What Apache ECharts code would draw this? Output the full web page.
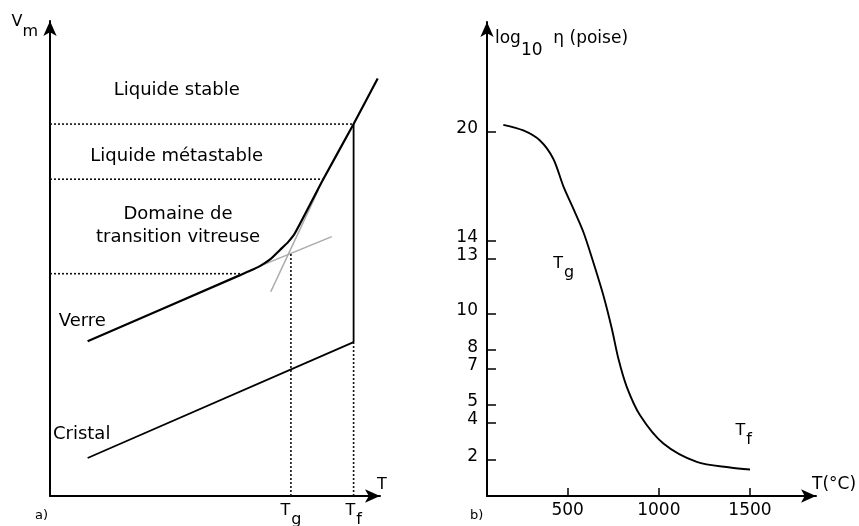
<!DOCTYPE html>
<html><head><meta charset="utf-8">
<script src="https://cdn.jsdelivr.net/npm/echarts@6/dist/echarts.min.js"></script>
<style>html,body{margin:0;padding:0;background:#fff}#c{width:859px;height:526px}</style>
</head><body><div id="c"></div>
<script>
// ---------- Panel a) : schematic V_m(T), arbitrary units ----------
const Tg = 73;
const Tf = 92;
const glassLiquidX = [11.4, 57.6, 60.6, 63.6, 66.7, 69.7, 72.2, 74.2, 82.8, 92, 99.3];
const glassLiquidY = [32.6, 46.5, 47.4, 48.4, 49.8, 51.8, 53.5, 55.3, 66.7, 78.3, 87.9];
const crystalX = [11.4, 92];
const crystalY = [8.0, 32.4];
const glassExtX = [63.6, 85.4];
const glassExtY = [48.4, 54.6];
const liquidExtX = [66.9, 81.3];
const liquidExtY = [43.0, 64.4];
const levelY = [78.3, 66.7, 46.8];      // stable / metastable / transition limits
const levelEndX = [92, 82.8, 58.2];
const TgTopY = 51.2;
const textA = ['Liquide stable', 'Liquide métastable', 'Domaine de\ntransition vitreuse', 'Verre', 'Cristal'];
const textAX = [38.4, 38.4, 38.8, 9.8, 9.6];
const textAY = [85.5, 71.6, 56.8, 36.8, 13.0];

// ---------- Panel b) : log10 viscosity vs temperature ----------
const tempC = [147, 257, 348, 421, 476, 531, 586, 635, 696, 742, 778, 824, 897, 1025, 1208, 1391, 1500];
const logEta = [20.36, 20.05, 19.5, 18.5, 17.0, 15.76, 14.48, 13.0, 11.0, 9.19, 7.54, 5.99, 4.43, 2.88, 1.87, 1.56, 1.45];
const etaTicks = [2, 4, 5, 7, 8, 10, 13, 14, 20];
const tempTicks = [500, 1000, 1500];
const textB = ['Tg', 'Tf'];
const textBX = [478, 1465];
const textBY = [12.7, 3.5];

const FONT = 'DejaVu Sans';
const ink = '#000';
const zip = (a, b) => a.map((v, i) => [v, b[i]]);

const subRich = {
  t: {fontFamily: FONT, fontSize: 16, color: ink, lineHeight: 18, verticalAlign: 'top'},
  s: {fontFamily: FONT, fontSize: 16, color: ink, lineHeight: 18, verticalAlign: 'top', padding: [9, 0, 0, 1]}
};
const subFmt = s => '{t|' + s[0] + '}{s|' + s.slice(1) + '}';

const axisLineStyle = {color: '#000', width: 2};
const arrowSize = [10, 15];
const dot = {color: '#111', width: 1.6, type: [2, 2]};

const lineSeries = (data, style, xi, smooth) => ({
  type: 'line', xAxisIndex: xi, yAxisIndex: xi, data: data, symbol: 'none', smooth: smooth || false,
  lineStyle: style, silent: true, clip: false, animation: false
});

const seriesA = [
  lineSeries(zip(glassExtX, glassExtY), {color: '#aaa', width: 1.5}, 0),
  lineSeries(zip(liquidExtX, liquidExtY), {color: '#aaa', width: 1.5}, 0),
  lineSeries(zip(glassLiquidX, glassLiquidY), {color: '#000', width: 2.2}, 0, 0.2),
  lineSeries(zip(crystalX, crystalY), {color: '#000', width: 1.8}, 0),
  lineSeries([[Tf, crystalY[1]], [Tf, levelY[0]]], {color: '#000', width: 1.8}, 0),
  lineSeries([[Tg, 0], [Tg, TgTopY]], dot, 0),
  lineSeries([[Tf, 0], [Tf, crystalY[1]]], dot, 0)
];
levelY.forEach((y, i) => seriesA.push(lineSeries([[0, y], [levelEndX[i], y]], dot, 0)));
seriesA.push({
  type: 'scatter', xAxisIndex: 0, yAxisIndex: 0, symbolSize: 0, silent: true, animation: false,
  itemStyle: {color: 'transparent', opacity: 1},
  data: textA.map((t, i) => ({value: [textAX[i], textAY[i]], name: t})),
  label: {show: true, position: 'inside', formatter: p => p.name, fontFamily: FONT, fontSize: 18,
          color: ink, opacity: 1, lineHeight: 23, align: 'center', verticalAlign: 'middle'}
});

const seriesB = [
  {type: 'line', xAxisIndex: 1, yAxisIndex: 1, data: zip(tempC, logEta), symbol: 'none', smooth: 0.3,
   lineStyle: {color: '#000', width: 1.9}, silent: true, animation: false},
  {type: 'scatter', xAxisIndex: 1, yAxisIndex: 1, symbolSize: 0, silent: true, animation: false,
   itemStyle: {color: 'transparent', opacity: 1},
   data: textB.map((t, i) => ({value: [textBX[i], textBY[i]], name: t})),
   label: {show: true, position: 'inside', opacity: 1, formatter: p => subFmt(p.name), rich: subRich}}
];

const chart = echarts.init(document.getElementById('c'), null, {renderer: 'canvas'});
chart.setOption({
  backgroundColor: '#fff',
  animation: false,
  grid: [
    {left: 50, top: 21, width: 330, height: 475, containLabel: false, outerBoundsMode: 'none'},
    {left: 487, top: 22, width: 329, height: 474, containLabel: false, outerBoundsMode: 'none'}
  ],
  xAxis: [
    {type: 'value', gridIndex: 0, min: 0, max: 100, splitLine: {show: false},
     axisLine: {lineStyle: axisLineStyle, symbol: ['none', 'arrow'], symbolSize: arrowSize},
     axisTick: {show: false},
     axisLabel: {show: true, customValues: [Tg, Tf], margin: 7,
                 formatter: v => subFmt(v === Tg ? 'Tg' : 'Tf'), rich: subRich},
     name: 'T', nameLocation: 'end', nameGap: -3,
     nameTextStyle: {fontFamily: FONT, fontSize: 16, color: ink, verticalAlign: 'bottom', lineHeight: 18, padding: [0, 0, 2, 0]}},
    {type: 'value', gridIndex: 1, min: 57.6, max: 1862, splitLine: {show: false},
     axisLine: {lineStyle: axisLineStyle, symbol: ['none', 'arrow'], symbolSize: arrowSize},
     axisTick: {show: true, inside: true, length: 8, customValues: tempTicks, lineStyle: {color: '#000', width: 1.5}},
     axisLabel: {show: true, customValues: tempTicks, margin: 6, fontFamily: FONT, fontSize: 17, color: ink,
                 formatter: v => String(v)},
     name: 'T(°C)', nameLocation: 'end', nameGap: -4,
     nameTextStyle: {fontFamily: FONT, fontSize: 17, color: ink, verticalAlign: 'bottom', lineHeight: 18, padding: [0, 0, 2, 0]}}
  ],
  yAxis: [
    {type: 'value', gridIndex: 0, min: 0, max: 100, splitLine: {show: false},
     axisLine: {lineStyle: axisLineStyle, symbol: ['none', 'arrow'], symbolSize: arrowSize},
     axisTick: {show: false}, axisLabel: {show: false},
     name: '{v|V}{m|m}', nameLocation: 'end', nameGap: -9,
     nameTextStyle: {align: 'right', padding: [0, 12, 0, 0], rich: {
       v: {fontFamily: FONT, fontSize: 16, color: ink, lineHeight: 16, verticalAlign: 'top'},
       m: {fontFamily: FONT, fontSize: 16, color: ink, lineHeight: 16, verticalAlign: 'top', padding: [10, 0, 0, 0]}}}},
    {type: 'value', gridIndex: 1, min: 0, max: 26.0, splitLine: {show: false},
     axisLine: {lineStyle: axisLineStyle, symbol: ['none', 'arrow'], symbolSize: arrowSize},
     axisTick: {show: true, inside: true, length: 9, customValues: etaTicks, lineStyle: {color: '#000', width: 1.5}},
     axisLabel: {show: true, customValues: etaTicks, margin: 9, fontFamily: FONT, fontSize: 17, color: ink,
                 verticalAlign: 'bottom', lineHeight: 6},
     name: '{a|log}{s|10}{a|  η (poise)}', nameLocation: 'end', nameGap: -26,
     nameTextStyle: {align: 'left', padding: [0, 0, 0, 8], rich: {
       a: {fontFamily: FONT, fontSize: 17, color: ink, lineHeight: 18, verticalAlign: 'top'},
       s: {fontFamily: FONT, fontSize: 17, color: ink, lineHeight: 18, verticalAlign: 'top', padding: [12, 0, 0, 0]}}}}
  ],
  graphic: [
    {type: 'text', left: 35, top: 509, style: {text: 'a)', fontFamily: FONT, fontSize: 13, fill: ink}},
    {type: 'text', left: 470, top: 509, style: {text: 'b)', fontFamily: FONT, fontSize: 13, fill: ink}}
  ],
  series: seriesA.concat(seriesB)
});
</script></body></html>
